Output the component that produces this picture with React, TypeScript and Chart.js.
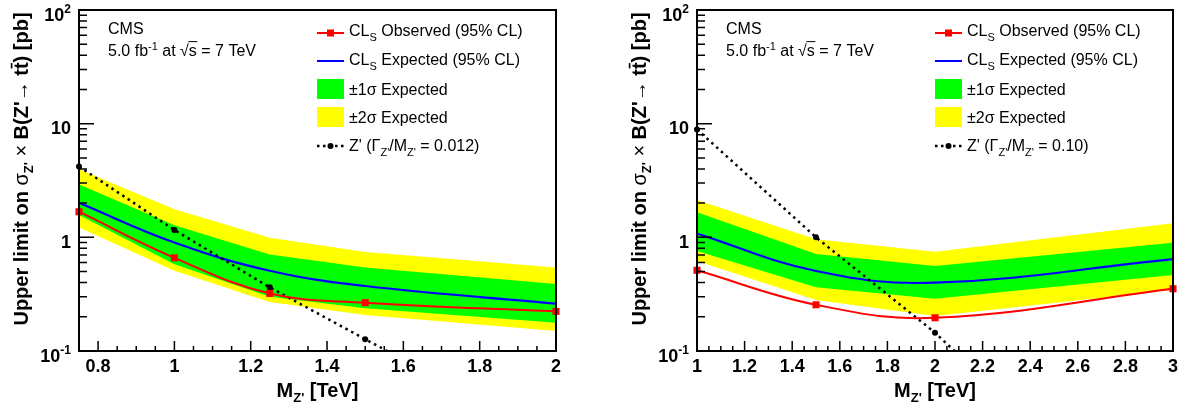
import React, { useEffect, useRef } from 'react';
import { Chart, registerables } from 'chart.js';

Chart.register(...registerables);

const FONT = "'Liberation Sans', Arial, Helvetica, sans-serif";

// ---------- Left panel: Z' (Gamma/M = 0.012) ----------
const massL = [0.75, 1.0, 1.25, 1.5, 2.0];
const observedL = [1.68, 0.66, 0.321, 0.266, 0.223];
const expectedL = [2.01, 0.9, 0.508, 0.373, 0.261];
const oneSigHiL = [2.92, 1.28, 0.708, 0.544, 0.389];
const oneSigLoL = [1.57, 0.58, 0.3, 0.238, 0.177];
const twoSigHiL = [3.98, 1.77, 0.99, 0.743, 0.544];
const twoSigLoL = [1.22, 0.508, 0.27, 0.207, 0.15];
const massZL = [0.75, 1.0, 1.25, 1.5, 1.75, 2.0];
const theoryZL = [4.2, 1.16, 0.363, 0.127, 0.045, 0.017];
const xTicksL = [0.8, 1.0, 1.2, 1.4, 1.6, 1.8, 2.0];
const xTickLabelsL = ['0.8', '1', '1.2', '1.4', '1.6', '1.8', '2'];

// ---------- Right panel: Z' (Gamma/M = 0.10) ----------
const massR = [1.0, 1.5, 2.0, 3.0];
const observedR = [0.513, 0.255, 0.196, 0.353];
const expectedR = [1.08, 0.506, 0.399, 0.644];
const oneSigHiR = [1.66, 0.713, 0.56, 0.897];
const oneSigLoR = [0.758, 0.363, 0.288, 0.466];
const twoSigHiR = [2.13, 0.96, 0.746, 1.33];
const twoSigLoR = [0.62, 0.281, 0.203, 0.344];
const massZR = [1.0, 1.5, 2.0, 2.5, 3.0];
const theoryZR = [8.9, 1.0, 0.145, 0.015, 0.002];
const xTicksR = [1.0, 1.2, 1.4, 1.6, 1.8, 2.0, 2.2, 2.4, 2.6, 2.8, 3.0];
const xTickLabelsR = ['1', '1.2', '1.4', '1.6', '1.8', '2', '2.2', '2.4', '2.6', '2.8', '3'];

// ---------- shared axis ----------
const yTicks = [0.1, 1, 10, 100];
const yTickLabels: [string, string][] = [['10', '-1'], ['1', ''], ['10', ''], ['10', '2']];

type Piece = { t: string; size: number; bold?: boolean; dy?: number; bar?: 'over' | 'rad' };

const fnt = (p: Piece) => `${p.bold ? 'bold ' : ''}${p.size}px ${FONT}`;

function widthOf(ctx: CanvasRenderingContext2D, ps: Piece[]) {
  let w = 0;
  for (const p of ps) {
    ctx.font = fnt(p);
    w += ctx.measureText(p.t).width;
  }
  return w;
}

function drawPieces(ctx: CanvasRenderingContext2D, ps: Piece[], x: number, y: number) {
  let cx = x;
  for (const p of ps) {
    ctx.font = fnt(p);
    const w = ctx.measureText(p.t).width;
    const yy = y + (p.dy || 0);
    ctx.fillText(p.t, cx, yy);
    if (p.bar === 'over') {
      ctx.fillRect(cx + w * 0.1, yy - p.size * 0.86, w * 0.8, Math.max(1.2, p.size * 0.08));
    } else if (p.bar === 'rad') {
      ctx.fillRect(cx - 0.5, yy - p.size * 0.93, w + 1, 1);
    }
    cx += w;
  }
  return cx;
}

type Panel = {
  mass: number[];
  observed: number[];
  expected: number[];
  oneHi: number[];
  oneLo: number[];
  twoHi: number[];
  twoLo: number[];
  massZ: number[];
  theoryZ: number[];
  xMin: number;
  xMax: number;
  xTicks: number[];
  xTickLabels: string[];
  widthLabel: string;
  padLeft: number;
  padRight: number;
};

const panels: Panel[] = [
  {
    mass: massL, observed: observedL, expected: expectedL,
    oneHi: oneSigHiL, oneLo: oneSigLoL, twoHi: twoSigHiL, twoLo: twoSigLoL,
    massZ: massZL, theoryZ: theoryZL,
    xMin: 0.75, xMax: 2.0, xTicks: xTicksL, xTickLabels: xTickLabelsL,
    widthLabel: '0.012', padLeft: 79, padRight: 35,
  },
  {
    mass: massR, observed: observedR, expected: expectedR,
    oneHi: oneSigHiR, oneLo: oneSigLoR, twoHi: twoSigHiR, twoLo: twoSigLoR,
    massZ: massZR, theoryZ: theoryZR,
    xMin: 1.0, xMax: 3.0, xTicks: xTicksR, xTickLabels: xTickLabelsR,
    widthLabel: '0.10', padLeft: 106, padRight: 10,
  },
];

const pts = (xs: number[], ys: number[]) => xs.map((x, i) => ({ x, y: ys[i] }));

function makeDecor(p: Panel) {
  return {
    id: 'decor',
    afterDatasetsDraw(chart: any) {
      const { ctx, chartArea: a, scales } = chart;
      const x = scales.x;
      const y = scales.y;
      ctx.save();
      ctx.strokeStyle = '#000';
      ctx.lineWidth = 1.5;
      ctx.beginPath();
      // y ticks (log)
      for (let d = -1; d <= 2; d++) {
        for (let m = 1; m <= 9; m++) {
          const v = m * Math.pow(10, d);
          if (v > 100.0001) break;
          const py = y.getPixelForValue(v);
          const len = m === 1 ? 15 : 8;
          ctx.moveTo(a.left, py);
          ctx.lineTo(a.left + len, py);
        }
      }
      // x minor ticks every 0.05
      const nMinor = Math.round((p.xMax - p.xMin) / 0.05);
      for (let i = 0; i <= nMinor; i++) {
        const v = p.xMin + i * 0.05;
        const px = x.getPixelForValue(v);
        ctx.moveTo(px, a.bottom);
        ctx.lineTo(px, a.bottom - 5);
      }
      for (const v of p.xTicks) {
        const px = x.getPixelForValue(v);
        ctx.moveTo(px, a.bottom);
        ctx.lineTo(px, a.bottom - 10);
      }
      ctx.stroke();
      ctx.lineWidth = 2;
      ctx.strokeRect(a.left, a.top, a.right - a.left, a.bottom - a.top);
      ctx.restore();
    },
    afterDraw(chart: any) {
      const { ctx, chartArea: a, scales } = chart;
      const x = scales.x;
      const y = scales.y;
      ctx.save();
      ctx.fillStyle = '#000';
      ctx.textBaseline = 'alphabetic';
      ctx.textAlign = 'left';

      // x tick labels
      ctx.font = `bold 18px ${FONT}`;
      ctx.textAlign = 'center';
      ctx.textBaseline = 'middle';
      p.xTicks.forEach((v, i) => {
        ctx.fillText(p.xTickLabels[i], x.getPixelForValue(v), a.bottom + 16);
      });

      // y tick labels
      ctx.textAlign = 'left';
      ctx.textBaseline = 'alphabetic';
      yTicks.forEach((v, i) => {
        const [base, sup] = yTickLabels[i];
        const ps: Piece[] = [{ t: base, size: 18, bold: true }];
        if (sup) ps.push({ t: sup, size: 12, bold: true, dy: -8 });
        const w = widthOf(ctx, ps);
        const py = y.getPixelForValue(v);
        drawPieces(ctx, ps, a.left - 8 - w, py + 10.5);
      });

      // x title
      const xt: Piece[] = [
        { t: 'M', size: 20, bold: true },
        { t: "Z'", size: 13, bold: true, dy: 5 },
        { t: ' [TeV]', size: 20, bold: true },
      ];
      const xw = widthOf(ctx, xt);
      drawPieces(ctx, xt, (a.left + a.right) / 2 - xw / 2, 397);

      // y title (rotated)
      const yt: Piece[] = [
        { t: 'Upper limit on ', size: 20, bold: true },
        { t: 'σ', size: 20 },
        { t: "Z'", size: 13, bold: true, dy: 5 },
        { t: ' × ', size: 20 },
        { t: "B(Z'", size: 20, bold: true },
        { t: '→', size: 20 },
        { t: ' t', size: 20, bold: true },
        { t: 't', size: 20, bold: true, bar: 'over' },
        { t: ') [pb]', size: 20, bold: true },
      ];
      const yw = widthOf(ctx, yt);
      ctx.save();
      ctx.translate(a.left - 51, (a.top + 328) / 2);
      ctx.rotate(-Math.PI / 2);
      drawPieces(ctx, yt, -yw / 2, 0);
      ctx.restore();

      // CMS text
      const tx = a.left + 29;
      ctx.font = `16px ${FONT}`;
      ctx.fillText('CMS', tx, 34);
      drawPieces(ctx, [
        { t: '5.0 fb', size: 16 },
        { t: '-1', size: 11, dy: -6 },
        { t: ' at ', size: 16 },
        { t: '√', size: 16 },
        { t: 's', size: 16, bar: 'rad' },
        { t: ' = 7 TeV', size: 16 },
      ], tx, 56);

      // legend
      const s0 = a.left + 238;
      const s1 = a.left + 265;
      const lt = a.left + 270;
      // row 1: observed
      ctx.strokeStyle = '#ff0000';
      ctx.lineWidth = 2;
      ctx.beginPath();
      ctx.moveTo(s0, 33); ctx.lineTo(s1, 33);
      ctx.stroke();
      ctx.fillStyle = '#ff0000';
      ctx.fillRect((s0 + s1) / 2 - 3.5, 33 - 3.5, 7, 7);
      ctx.fillStyle = '#000';
      drawPieces(ctx, [
        { t: 'CL', size: 16 }, { t: 'S', size: 11, dy: 5 }, { t: ' Observed (95% CL)', size: 16 },
      ], lt, 36);
      // row 2: expected
      ctx.strokeStyle = '#0000ff';
      ctx.beginPath();
      ctx.moveTo(s0, 61); ctx.lineTo(s1, 61);
      ctx.stroke();
      drawPieces(ctx, [
        { t: 'CL', size: 16 }, { t: 'S', size: 11, dy: 5 }, { t: ' Expected (95% CL)', size: 16 },
      ], lt, 65);
      // row 3,4: bands
      ctx.fillStyle = '#00ff00';
      ctx.fillRect(s0, 79, s1 - s0, 20);
      ctx.fillStyle = '#ffff00';
      ctx.fillRect(s0, 107, s1 - s0, 20);
      ctx.fillStyle = '#000';
      drawPieces(ctx, [{ t: '±1σ Expected', size: 16 }], lt, 94.5);
      drawPieces(ctx, [{ t: '±2σ Expected', size: 16 }], lt, 122.5);
      // row 5: theory
      ctx.strokeStyle = '#000';
      ctx.lineWidth = 2.5;
      ctx.setLineDash([2.5, 3.5]);
      ctx.beginPath();
      ctx.moveTo(s0, 146); ctx.lineTo(s1, 146);
      ctx.stroke();
      ctx.setLineDash([]);
      ctx.beginPath();
      ctx.arc((s0 + s1) / 2, 146, 3, 0, Math.PI * 2);
      ctx.fill();
      drawPieces(ctx, [
        { t: "Z' (Γ", size: 16 }, { t: "Z'", size: 11, dy: 5 },
        { t: '/M', size: 16 }, { t: "Z'", size: 11, dy: 5 },
        { t: ` = ${p.widthLabel})`, size: 16 },
      ], lt, 150.5);

      ctx.restore();
    },
  };
}

function buildConfig(p: Panel): any {
  return {
    type: 'line',
    data: {
      datasets: [
        {
          data: pts(p.mass, p.twoHi), fill: 1, backgroundColor: '#ffff00',
          borderColor: 'rgba(0,0,0,0)', borderWidth: 0, pointRadius: 0, tension: 0, order: 10,
        },
        {
          data: pts(p.mass, p.twoLo), fill: false,
          borderColor: 'rgba(0,0,0,0)', borderWidth: 0, pointRadius: 0, tension: 0, order: 10,
        },
        {
          data: pts(p.mass, p.oneHi), fill: 3, backgroundColor: '#00ff00',
          borderColor: 'rgba(0,0,0,0)', borderWidth: 0, pointRadius: 0, tension: 0, order: 9,
        },
        {
          data: pts(p.mass, p.oneLo), fill: false,
          borderColor: 'rgba(0,0,0,0)', borderWidth: 0, pointRadius: 0, tension: 0, order: 9,
        },
        {
          data: pts(p.mass, p.expected), fill: false, borderColor: '#0000ff', borderWidth: 2.2,
          pointRadius: 0, tension: 0.4, order: 4,
        },
        {
          data: pts(p.massZ, p.theoryZ), fill: false, borderColor: '#000', borderWidth: 2.5,
          borderDash: [2.5, 4], pointRadius: 3, pointBorderWidth: 0, pointBackgroundColor: '#000',
          pointStyle: 'circle', tension: 0, order: 3,
          clip: { left: 6, right: 6, top: 6, bottom: 0 },
        },
        {
          data: pts(p.mass, p.observed), fill: false, borderColor: '#ff0000', borderWidth: 2,
          pointRadius: 5, pointStyle: 'rect', pointBackgroundColor: '#ff0000', pointBorderWidth: 0,
          tension: 0.4, order: 1, clip: false,
        },
      ],
    },
    options: {
      animation: false,
      responsive: false,
      devicePixelRatio: 1,
      parsing: true,
      layout: { padding: { left: p.padLeft, right: p.padRight, top: 10, bottom: 60 } },
      plugins: { legend: { display: false }, tooltip: { enabled: false } },
      events: [],
      scales: {
        x: { type: 'linear', min: p.xMin, max: p.xMax, display: false },
        y: { type: 'logarithmic', min: 0.1, max: 100, display: false },
      },
    },
    plugins: [makeDecor(p)],
  };
}

function PanelChart({ panel, left, width }: { panel: Panel; left: number; width: number }) {
  const ref = useRef<HTMLCanvasElement | null>(null);
  useEffect(() => {
    if (!ref.current) return;
    const chart = new Chart(ref.current, buildConfig(panel));
    return () => chart.destroy();
  }, [panel]);
  return (
    <canvas
      ref={ref}
      width={width}
      height={411}
      style={{ position: 'absolute', left, top: 0, width, height: 411 }}
    />
  );
}

export default function App() {
  return (
    <div style={{ position: 'fixed', left: 0, top: 0, width: 1183, height: 411, background: '#fff' }}>
      <PanelChart panel={panels[0]} left={0} width={591} />
      <PanelChart panel={panels[1]} left={591} width={592} />
    </div>
  );
}
